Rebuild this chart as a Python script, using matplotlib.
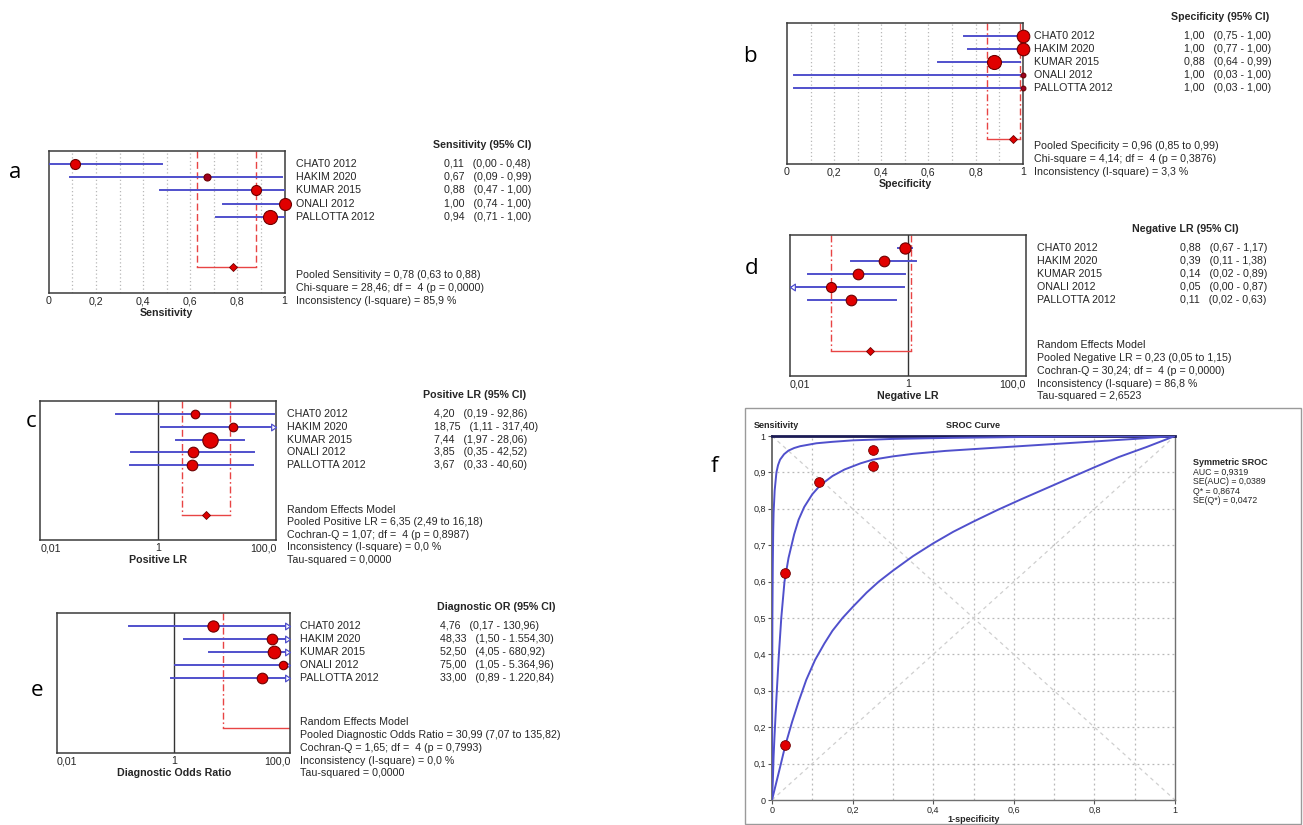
import numpy as np
import matplotlib.pyplot as plt
from matplotlib.transforms import blended_transform_factory
from matplotlib.patches import Rectangle
from matplotlib.path import Path

W, H = 1303, 825
plt.rcParams['font.family'] = ['Liberation Sans', 'DejaVu Sans']

# === Data ===
studies = ["CHAT0 2012", "HAKIM 2020", "KUMAR 2015", "ONALI 2012", "PALLOTTA 2012"]

sens = [0.11, 0.67, 0.88, 1.00, 0.94]
sens_lo = [0.00, 0.09, 0.47, 0.74, 0.71]
sens_hi = [0.48, 0.99, 1.00, 1.00, 1.00]
sens_pooled = (0.78, 0.63, 0.88)

spec = [1.00, 1.00, 0.88, 1.00, 1.00]
spec_lo = [0.75, 0.77, 0.64, 0.03, 0.03]
spec_hi = [1.00, 1.00, 0.99, 1.00, 1.00]
spec_pooled = (0.96, 0.85, 0.99)

plr = [4.20, 18.75, 7.44, 3.85, 3.67]
plr_lo = [0.19, 1.11, 1.97, 0.35, 0.33]
plr_hi = [92.86, 317.40, 28.06, 42.52, 40.60]
plr_pooled = (6.35, 2.49, 16.18)

nlr = [0.88, 0.39, 0.14, 0.05, 0.11]
nlr_lo = [0.67, 0.11, 0.02, 0.00, 0.02]
nlr_hi = [1.17, 1.38, 0.89, 0.87, 0.63]
nlr_pooled = (0.23, 0.05, 1.15)

dor = [4.76, 48.33, 52.50, 75.00, 33.00]
dor_lo = [0.17, 1.50, 4.05, 1.05, 0.89]
dor_hi = [130.96, 1554.30, 680.92, 5364.96, 1220.84]
dor_pooled = (30.99, 7.07, 135.82)

# study weights shown as marker radius (px)
sens_w = [5.0, 3.5, 5.0, 6.0, 7.0]
spec_w = [6.3, 6.3, 7.0, 2.4, 2.4]
plr_w = [4.3, 4.3, 7.7, 5.3, 5.3]
nlr_w = [5.6, 5.3, 5.3, 5.0, 5.3]
dor_w = [5.6, 5.3, 6.3, 4.2, 5.3]

# SROC: study points and curves (1-specificity, sensitivity)
sroc_fpr = [0.033, 0.033, 0.117, 0.25, 0.25]
sroc_tpr = [0.15, 0.625, 0.875, 0.918, 0.962]

upper_fpr = [0, 0.0005, 0.001, 0.002, 0.003, 0.004, 0.0066, 0.011, 0.015, 0.02, 0.03,
             0.041, 0.055, 0.07, 0.11, 0.15, 0.2, 0.3, 0.45, 0.6, 0.8, 1.0]
upper_tpr = [0, 0.3, 0.5, 0.65, 0.74, 0.79, 0.85, 0.9, 0.92, 0.935, 0.95,
             0.96, 0.967, 0.972, 0.98, 0.984, 0.988, 0.992, 0.995, 0.997, 0.999, 1.0]

mid_fpr = [0, 0.002, 0.004, 0.006, 0.011, 0.0165, 0.023, 0.031, 0.041, 0.055, 0.066, 0.08,
           0.1, 0.12, 0.15, 0.18, 0.22, 0.25, 0.3, 0.35, 0.43, 0.5, 0.6, 0.7, 0.8, 0.9, 1.0]
mid_tpr = [0, 0.05, 0.12, 0.17, 0.28, 0.39, 0.5, 0.6, 0.665, 0.73, 0.77, 0.805,
           0.84, 0.865, 0.89, 0.908, 0.925, 0.935, 0.944, 0.951, 0.959, 0.964, 0.971, 0.978, 0.985, 0.992, 1.0]

lower_fpr = [0, 0.01, 0.02, 0.033, 0.05, 0.066, 0.085, 0.107, 0.13, 0.15, 0.175, 0.2, 0.235,
             0.265, 0.3, 0.35, 0.4, 0.45, 0.5, 0.56, 0.62, 0.68, 0.74, 0.8, 0.86, 0.93, 1.0]
lower_tpr = [0, 0.045, 0.09, 0.15, 0.215, 0.27, 0.33, 0.385, 0.43, 0.465, 0.5, 0.53, 0.57,
             0.6, 0.63, 0.67, 0.705, 0.737, 0.765, 0.797, 0.827, 0.856, 0.885, 0.914, 0.942, 0.97, 1.0]

sroc_stats = ["AUC = 0,9319", "SE(AUC) = 0,0389", "Q* = 0,8674", "SE(Q*) = 0,0472"]

# === Styles ===
RED = '#e10000'
EDGE = '#6e0000'
BLUE = '#5050cc'
PRED = '#e84444'
TXT = '#262626'
FS = 7.7
POOL_Y = 7.85
ROWS_FOOT = [7.44, 8.42, 9.40, 10.38, 11.36]

ARROW_R = Path([(0, 0), (-1.6, 1.1), (-1.6, -1.1), (0, 0)],
               [Path.MOVETO, Path.LINETO, Path.LINETO, Path.CLOSEPOLY])
ARROW_L = Path([(0, 0), (1.6, 1.1), (1.6, -1.1), (0, 0)],
               [Path.MOVETO, Path.LINETO, Path.LINETO, Path.CLOSEPOLY])

fig = plt.figure(figsize=(W / 100, H / 100), dpi=100)
fig.patch.set_facecolor('white')


def px_axes(x0, y0, x1, y1):
    return fig.add_axes([x0 / W, 1 - y1 / H, (x1 - x0) / W, (y1 - y0) / H])


def fmt(v):
    s = f"{v:,.2f}"
    return s.replace(",", "X").replace(".", ",").replace("X", ".")


def forest(ax, est, lo, hi, pooled, weights, log, header, footer, xlabel,
           cols, dash, diamond=True):
    xmin, xmax = (0.01, 100) if log else (0, 1)
    if log:
        ax.set_xscale('log')
    ax.set_xlim(xmin, xmax)
    ax.set_ylim(9.8, -1.0)

    if log:
        ax.axvline(1, color='#333333', lw=1.0, zorder=1)
        ax.set_xticks([0.01, 1, 100])
        labs = ax.set_xticklabels(['0,01', '1', '100,0'])
        labs[0].set_ha('left')
        labs[-1].set_ha('right')
    else:
        for g in np.arange(1, 10) / 10:
            ax.axvline(g, color='#b8b8b8', lw=0.9, ls=(0, (1, 2)), zorder=0)
        ax.set_xticks([0, 0.2, 0.4, 0.6, 0.8, 1])
        ax.set_xticklabels(['0', '0,2', '0,4', '0,6', '0,8', '1'])
    ax.xaxis.set_minor_locator(plt.NullLocator())
    ax.set_yticks([])
    ax.tick_params(axis='x', length=0, pad=2.5, labelsize=FS, labelcolor=TXT)
    ax.set_xlabel(xlabel, fontsize=FS, fontweight='bold', color=TXT, labelpad=1)
    for sp in ax.spines.values():
        sp.set_color('#3a3a3a')
        sp.set_linewidth(1.1)

    # pooled bracket
    p, plo, phi = pooled
    ax.plot([plo, plo], [-1.0, POOL_Y], color=PRED, ls=dash, lw=1.0, zorder=2)
    ax.plot([phi, phi], [-1.0, POOL_Y], color=PRED, ls=dash, lw=1.0, zorder=2)
    ax.plot([plo, min(phi, xmax)], [POOL_Y, POOL_Y], color=PRED, lw=1.0, zorder=2)
    if diamond:
        ax.plot(p, POOL_Y, marker='D', ms=4.5, mfc=RED, mec=EDGE, mew=0.6, zorder=5)

    # studies
    for i in range(len(est)):
        l = max(lo[i], xmin)
        h = min(hi[i], xmax)
        ax.plot([l, h], [i, i], color=BLUE, lw=1.4, zorder=3)
        if hi[i] > xmax:
            ax.plot(xmax, i, marker=ARROW_R, ms=7, mfc='white', mec=BLUE, mew=0.9,
                    clip_on=False, zorder=4)
        if lo[i] < xmin:
            ax.plot(xmin, i, marker=ARROW_L, ms=7, mfc='white', mec=BLUE, mew=0.9,
                    clip_on=False, zorder=4)
        face = RED if weights[i] > 3.8 else '#a00020'
        ax.plot(est[i], i, 'o', ms=2 * weights[i] * 0.72, mfc=face, mec=EDGE, mew=0.8,
                clip_on=False, zorder=6)

    tr = blended_transform_factory(ax.transAxes, ax.transData)
    xn, xh, xv = cols
    ax.text(xh, -1.45, header, transform=tr, fontsize=FS, fontweight='bold',
            color=TXT, va='center', ha='left')
    for i, name in enumerate(studies):
        ax.text(xn, i, name, transform=tr, fontsize=FS, color=TXT, va='center')
        ax.text(xv, i, f"{fmt(est[i])}   ({fmt(lo[i])} - {fmt(hi[i])})", transform=tr,
                fontsize=FS, color=TXT, va='center')
    rows = ROWS_FOOT if len(footer) == 5 else ROWS_FOOT[1:]
    for y, line in zip(rows, footer):
        ax.text(xn, y, line, transform=tr, fontsize=FS, color=TXT, va='center')


def panel_label(x, y, s):
    fig.text(x / W, 1 - y / H, s, fontsize=16, family=['Open Sans', 'DejaVu Sans'],
             ha='center', va='center', color='black')


DASH = (0, (5, 2.5))
DASHDOT = (0, (5, 2, 1.2, 2))

# a - sensitivity
ax_a = px_axes(48.75, 151, 284.6, 293)
forest(ax_a, sens, sens_lo, sens_hi, sens_pooled, sens_w, False,
       "Sensitivity (95% CI)",
       [f"Pooled Sensitivity = {fmt(sens_pooled[0])} ({fmt(sens_pooled[1])} to {fmt(sens_pooled[2])})",
        "Chi-square = 28,46; df =  4 (p = 0,0000)",
        "Inconsistency (I-square) = 85,9 %"],
       "Sensitivity", (1.047, 1.629, 1.675), DASH)
panel_label(15, 173, "a")

# b - specificity
ax_b = px_axes(787, 23, 1022.7, 164)
forest(ax_b, spec, spec_lo, spec_hi, spec_pooled, spec_w, False,
       "Specificity (95% CI)",
       [f"Pooled Specificity = {fmt(spec_pooled[0])} ({fmt(spec_pooled[1])} to {fmt(spec_pooled[2])})",
        "Chi-square = 4,14; df =  4 (p = 0,3876)",
        "Inconsistency (I-square) = 3,3 %"],
       "Specificity", (1.049, 1.628, 1.683), DASHDOT)
panel_label(750, 57, "b")

# c - positive LR
ax_c = px_axes(40.4, 401, 276.3, 540)
forest(ax_c, plr, plr_lo, plr_hi, plr_pooled, plr_w, True,
       "Positive LR (95% CI)",
       ["Random Effects Model",
        f"Pooled Positive LR = {fmt(plr_pooled[0])} ({fmt(plr_pooled[1])} to {fmt(plr_pooled[2])})",
        "Cochran-Q = 1,07; df =  4 (p = 0,8987)",
        "Inconsistency (I-square) = 0,0 %",
        "Tau-squared = 0,0000"],
       "Positive LR", (1.044, 1.622, 1.669), DASHDOT)
panel_label(31, 422, "c")

# d - negative LR
ax_d = px_axes(790, 235, 1025.7, 376)
forest(ax_d, nlr, nlr_lo, nlr_hi, nlr_pooled, nlr_w, True,
       "Negative LR (95% CI)",
       ["Random Effects Model",
        f"Pooled Negative LR = {fmt(nlr_pooled[0])} ({fmt(nlr_pooled[1])} to {fmt(nlr_pooled[2])})",
        "Cochran-Q = 30,24; df =  4 (p = 0,0000)",
        "Inconsistency (I-square) = 86,8 %",
        "Tau-squared = 2,6523"],
       "Negative LR", (1.047, 1.451, 1.654), DASHDOT)
panel_label(752, 268, "d")

# e - diagnostic OR
ax_e = px_axes(57, 613, 290.4, 753)
forest(ax_e, dor, dor_lo, dor_hi, dor_pooled, dor_w, True,
       "Diagnostic OR (95% CI)",
       ["Random Effects Model",
        f"Pooled Diagnostic Odds Ratio = {fmt(dor_pooled[0])} ({fmt(dor_pooled[1])} to {fmt(dor_pooled[2])})",
        "Cochran-Q = 1,65; df =  4 (p = 0,7993)",
        "Inconsistency (I-square) = 0,0 %",
        "Tau-squared = 0,0000"],
       "Diagnostic Odds Ratio", (1.041, 1.63, 1.639), DASHDOT, diamond=False)
panel_label(37, 690, "e")

# f - SROC curve
fig.patches.append(Rectangle((745 / W, 1 / H), (1301 - 745) / W, (825 - 408 - 1) / H,
                             transform=fig.transFigure, fill=False,
                             edgecolor='#9a9a9a', lw=1.0))
ax_f = px_axes(772, 436, 1175, 800)
ax_f.set_xlim(0, 1)
ax_f.set_ylim(0, 1)
for g in np.arange(1, 10) / 10:
    ax_f.axvline(g, color='#b8b8b8', lw=0.9, ls=(0, (1.5, 2.5)), zorder=0)
    ax_f.axhline(g, color='#b8b8b8', lw=0.9, ls=(0, (1.5, 2.5)), zorder=0)
ax_f.plot([0, 1], [0, 1], color='#cfcfcf', lw=0.9, ls=(0, (3, 3)), zorder=0)
ax_f.plot([0, 1], [1, 0], color='#cfcfcf', lw=0.9, ls=(0, (3, 3)), zorder=0)
ax_f.plot(upper_fpr, upper_tpr, color=BLUE, lw=1.4, zorder=3)
ax_f.plot(mid_fpr, mid_tpr, color=BLUE, lw=1.4, zorder=3)
ax_f.plot(lower_fpr, lower_tpr, color=BLUE, lw=1.4, zorder=3)
ax_f.plot(sroc_fpr, sroc_tpr, 'o', ms=7, mfc=RED, mec=EDGE, mew=0.6, zorder=5)
ax_f.set_xticks([0, 0.2, 0.4, 0.6, 0.8, 1])
ax_f.set_xticklabels(['0', '0,2', '0,4', '0,6', '0,8', '1'])
ax_f.set_yticks(np.arange(0, 11) / 10)
ax_f.set_yticklabels(['0', '0,1', '0,2', '0,3', '0,4', '0,5', '0,6', '0,7', '0,8', '0,9', '1'])
ax_f.tick_params(labelsize=6.5, length=3, width=0.8, color='#555555', labelcolor=TXT, pad=1.5)
ax_f.set_xlabel("1-specificity", fontsize=6.5, fontweight='bold', color=TXT, labelpad=0)
for sp in ax_f.spines.values():
    sp.set_color('#707070')
    sp.set_linewidth(1.0)
ax_f.spines['top'].set_color('#1c1c55')
ax_f.spines['top'].set_linewidth(2.0)
ax_f.spines['left'].set_linewidth(1.4)

fig.text(754 / W, 1 - 425 / H, "Sensitivity", fontsize=6.5, fontweight='bold',
         color=TXT, va='center', ha='left')
fig.text(973.5 / W, 1 - 425 / H, "SROC Curve", fontsize=6.5, fontweight='bold',
         color=TXT, va='center', ha='center')
fig.text(1193 / W, 1 - 463 / H, "Symmetric SROC", fontsize=6.5, fontweight='bold',
         color=TXT, va='center', ha='left')
for k, line in enumerate(sroc_stats):
    fig.text(1193 / W, 1 - (472.5 + 9.3 * k) / H, line, fontsize=6.3,
             color=TXT, va='center', ha='left')
panel_label(714, 467, "f")

fig.savefig("out.png", dpi=100, facecolor='white')
